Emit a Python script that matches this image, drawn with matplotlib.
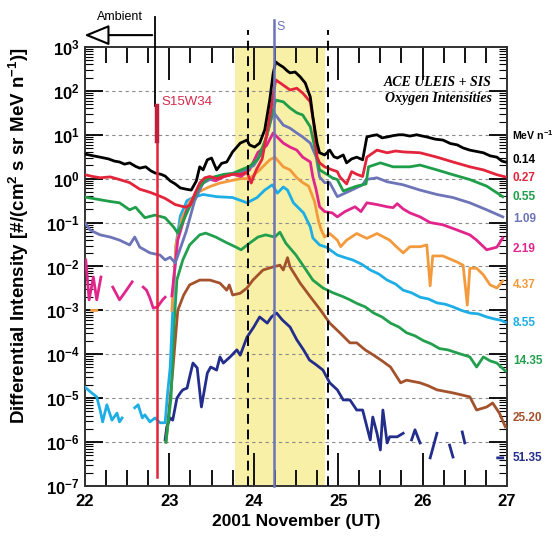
import numpy as np
import matplotlib
matplotlib.use("Agg")
import matplotlib.pyplot as plt
from matplotlib.ticker import MultipleLocator, LogLocator, NullFormatter, FuncFormatter

plt.rcParams["font.family"] = ["Liberation Sans", "DejaVu Sans"]
plt.rcParams["mathtext.fontset"] = "custom"
plt.rcParams["mathtext.rm"] = "Liberation Sans"
plt.rcParams["mathtext.bf"] = "Liberation Sans:bold"
plt.rcParams["mathtext.default"] = "bf"

NAN = float("nan")

# (day of November 2001, log10 intensity)
o_014 = [(22.00, 0.56), (22.10, 0.52), (22.18, 0.49), (22.28, 0.45), (22.35, 0.40), (22.41, 0.38),
         (22.47, 0.33), (22.53, 0.36), (22.60, 0.28), (22.65, 0.24), (22.72, 0.27), (22.78, 0.18),
         (22.83, 0.13), (22.90, 0.10), (22.95, 0.06), (23.01, -0.05), (23.07, -0.12), (23.13, -0.21),
         (23.20, -0.24), (23.26, -0.26), (23.32, -0.05), (23.36, 0.27), (23.40, 0.20), (23.45, 0.43),
         (23.50, 0.47), (23.56, 0.20), (23.62, 0.35), (23.68, 0.38), (23.75, 0.61), (23.84, 0.81),
         (23.92, 0.88), (23.95, 0.77), (24.01, 0.72), (24.07, 0.81), (24.13, 1.11), (24.19, 1.80),
         (24.23, 2.40), (24.26, 2.66), (24.30, 2.60), (24.35, 2.54), (24.40, 2.45), (24.43, 2.41),
         (24.49, 2.43), (24.55, 2.32), (24.61, 2.18), (24.67, 1.86), (24.70, 1.41), (24.75, 0.81),
         (24.78, 0.59), (24.84, 0.54), (24.90, 0.65), (24.95, 0.50), (24.99, 0.47), (25.06, 0.54),
         (25.10, 0.36), (25.16, 0.45), (25.22, 0.49), (25.29, 0.43), (25.34, 0.95), (25.40, 0.98),
         (25.46, 1.00), (25.52, 0.93), (25.58, 0.95), (25.65, 0.98), (25.72, 1.00), (25.77, 1.00),
         (25.85, 0.97), (25.93, 1.00), (26.00, 0.97), (26.05, 0.95), (26.15, 0.90), (26.24, 0.88),
         (26.33, 0.80), (26.41, 0.77), (26.48, 0.70), (26.56, 0.65), (26.64, 0.62), (26.72, 0.59),
         (26.80, 0.52), (26.88, 0.49), (26.94, 0.40), (26.98, 0.38)]

o_027 = [(22.00, 0.09), (22.09, 0.05), (22.18, 0.02), (22.30, 0.04), (22.41, -0.02), (22.53, -0.09),
         (22.65, -0.24), (22.77, -0.31), (22.89, -0.40), (22.95, -0.45), (23.07, -0.59), (23.19, -0.65),
         (23.25, -0.60), (23.30, -0.35), (23.36, -0.10), (23.42, 0.02), (23.48, 0.05), (23.56, 0.00),
         (23.65, 0.05), (23.75, 0.10), (23.85, 0.10), (23.92, 0.15), (23.97, -0.10), (24.03, 0.20),
         (24.10, 0.45), (24.18, 1.30), (24.26, 2.25), (24.35, 2.13), (24.43, 2.02), (24.51, 2.06),
         (24.58, 1.95), (24.67, 1.75), (24.71, 1.27), (24.75, 0.49), (24.78, 0.36), (24.84, 0.27),
         (24.93, 0.20), (24.99, 0.16), (25.02, 0.04), (25.10, -0.12), (25.16, 0.16), (25.22, 0.10),
         (25.29, 0.05), (25.34, 0.49), (25.46, 0.65), (25.58, 0.59), (25.68, 0.63), (25.77, 0.61),
         (25.97, 0.59), (26.17, 0.49), (26.36, 0.38), (26.56, 0.27), (26.72, 0.20), (26.88, 0.09),
         (26.98, 0.04)]

o_055 = [(22.00, -0.42), (22.09, -0.45), (22.18, -0.48), (22.30, -0.52), (22.41, -0.55), (22.53, -0.71),
         (22.60, -0.65), (22.71, -0.89), (22.83, -0.83), (22.95, -0.89), (23.05, -1.10), (23.10, -1.24),
         (23.25, -0.60), (23.35, -0.20), (23.45, 0.00), (23.55, 0.05), (23.65, 0.10), (23.75, 0.12),
         (23.85, 0.20), (23.95, 0.28), (24.05, 0.45), (24.15, 0.95), (24.26, 1.79), (24.35, 1.75),
         (24.43, 1.61), (24.51, 1.50), (24.58, 1.45), (24.67, 1.18), (24.73, 0.65), (24.78, 0.20),
         (24.84, 0.13), (24.93, 0.02), (24.99, -0.02), (25.06, -0.28), (25.22, -0.17), (25.33, -0.12),
         (25.36, 0.27), (25.50, 0.36), (25.65, 0.27), (25.85, 0.27), (25.97, 0.31), (26.17, 0.20),
         (26.36, 0.09), (26.56, -0.02), (26.76, -0.17), (26.95, -0.41)]

o_109 = [(22.00, -1.00), (22.06, -1.17), (22.18, -1.28), (22.30, -1.33), (22.41, -1.40), (22.53, -1.51),
         (22.59, -1.33), (22.65, -1.56), (22.77, -1.69), (22.89, -1.74), (22.95, -1.85), (23.01, -1.79),
         (23.07, -1.92), (23.20, -1.20), (23.30, -0.50), (23.40, -0.10), (23.50, 0.00), (23.60, 0.05),
         (23.70, 0.10), (23.80, 0.10), (23.90, 0.20), (24.00, 0.30), (24.10, 0.60), (24.23, 1.52),
         (24.35, 1.22), (24.43, 1.15), (24.51, 1.04), (24.58, 0.95), (24.67, 0.81), (24.74, 0.49),
         (24.78, 0.04), (24.84, -0.09), (24.90, -0.09), (24.99, -0.41), (25.16, -0.26), (25.29, -0.14),
         (25.33, -0.02), (25.46, 0.02), (25.58, -0.07), (25.77, -0.14), (25.97, -0.26), (26.17, -0.36),
         (26.36, -0.43), (26.56, -0.55), (26.76, -0.71), (26.95, -0.87)]

o_219 = [(22.01, -1.85), (22.05, -2.76), (22.10, -2.24), (22.14, -2.76), (22.19, -2.24), (22.25, NAN),
         (22.33, -2.47), (22.41, -2.76), (22.47, -2.60), (22.56, -2.35), (22.62, NAN),
         (22.69, -2.47), (22.73, -2.54), (22.77, -2.72), (22.81, -2.95), (22.86, -2.92), (22.92, -2.76),
         (22.95, -2.70), (22.99, NAN),
         (23.03, -2.67), (23.10, -1.40), (23.20, -0.75), (23.35, -0.20), (23.45, 0.00), (23.55, -0.05),
         (23.65, 0.05), (23.75, 0.10), (23.85, 0.05), (23.95, 0.20), (24.05, 0.60), (24.15, 0.75),
         (24.23, 1.04), (24.35, 0.81), (24.43, 0.72), (24.51, 0.65), (24.58, 0.49), (24.67, 0.38),
         (24.70, 0.04), (24.74, -0.26), (24.78, -0.64), (24.84, -0.75), (24.93, -0.78), (24.99, -0.87),
         (25.08, -0.75), (25.20, -0.64), (25.27, -0.75), (25.34, -0.55), (25.46, -0.59), (25.58, -0.64),
         (25.65, -0.66), (25.70, -0.57), (25.77, -0.69), (25.85, -0.78), (25.97, -0.87), (26.09, -1.00),
         (26.24, -1.05), (26.41, -1.17), (26.56, -1.28), (26.64, -1.40), (26.76, -1.62), (26.88, -1.56),
         (26.95, -1.35)]

o_437 = [(22.08, -3.00), (22.14, -3.00), (22.20, NAN),
         (23.03, -3.00), (23.08, -1.50), (23.15, -0.90), (23.25, -0.50), (23.35, -0.30), (23.48, -0.18),
         (23.60, -0.10), (23.72, -0.05), (23.84, 0.00), (23.95, 0.00), (24.07, 0.20), (24.19, 0.43),
         (24.25, 0.49), (24.35, 0.27), (24.43, 0.20), (24.51, 0.02), (24.58, -0.09), (24.65, -0.17),
         (24.72, -0.52), (24.77, -0.99), (24.80, -1.17), (24.84, -1.33), (24.90, -1.25), (24.99, -1.40),
         (25.03, -1.55), (25.10, -1.40), (25.22, -1.25), (25.34, -1.36), (25.46, -1.25), (25.61, -1.40),
         (25.69, -1.55), (25.77, -1.69), (25.85, -1.55), (25.97, -1.55), (26.05, -1.51), (26.09, -2.44),
         (26.12, -1.76), (26.24, -1.76), (26.41, -1.90), (26.48, -1.97), (26.53, -2.88), (26.56, -2.04),
         (26.64, -2.04), (26.72, -2.19), (26.80, -2.42), (26.88, -2.49), (26.95, -2.33)]

o_855 = [(22.00, -4.75), (22.08, -4.88), (22.14, -4.97), (22.18, -5.27), (22.21, -5.54), (22.26, -5.15),
         (22.32, -5.50), (22.38, -5.34), (22.41, -5.54), (22.44, -5.45), (22.52, NAN),
         (22.59, -5.22), (22.63, -5.15), (22.68, -5.45), (22.71, -5.38), (22.77, -5.54), (22.83, -5.45),
         (22.89, -5.56), (22.95, -5.56), (22.98, -4.88), (23.01, -4.30), (23.04, -3.00), (23.08, -1.50),
         (23.13, -0.85), (23.21, -0.50), (23.28, -0.43), (23.40, -0.36), (23.56, -0.41), (23.75, -0.43),
         (23.92, -0.55), (24.04, -0.43), (24.13, -0.26), (24.22, -0.14), (24.28, -0.33), (24.35, -0.19),
         (24.40, -0.26), (24.47, -0.55), (24.59, -0.78), (24.67, -1.10), (24.70, -1.35), (24.78, -1.51),
         (24.86, -1.56), (24.99, -1.74), (25.10, -1.81), (25.17, -1.85), (25.28, -1.95), (25.38, -2.08),
         (25.48, -2.17), (25.58, -2.31), (25.68, -2.40), (25.77, -2.54), (25.87, -2.60), (25.97, -2.70),
         (26.07, -2.74), (26.17, -2.83), (26.27, -2.86), (26.36, -2.92), (26.46, -3.00), (26.56, -3.06),
         (26.66, -3.08), (26.76, -3.15), (26.86, -3.20), (26.92, -3.22), (26.98, -3.27)]

o_1435 = [(22.96, -6.00), (23.02, -5.00), (23.05, -3.50), (23.09, -2.30), (23.16, -1.85), (23.24, -1.51),
          (23.36, -1.28), (23.43, -1.24), (23.55, -1.33), (23.67, -1.45), (23.79, -1.56), (23.85, -1.62),
          (23.95, -1.47), (24.05, -1.33), (24.14, -1.28), (24.25, -1.33), (24.31, -1.22), (24.38, -1.47),
          (24.50, -1.74), (24.62, -2.08), (24.70, -2.31), (24.82, -2.49), (24.94, -2.60), (25.06, -2.69),
          (25.14, -2.76), (25.22, -2.84), (25.32, -2.92), (25.42, -3.06), (25.52, -3.15), (25.62, -3.29),
          (25.72, -3.38), (25.81, -3.51), (25.91, -3.58), (26.01, -3.69), (26.10, -3.76), (26.20, -3.87),
          (26.30, -3.90), (26.41, -3.97), (26.56, -4.06), (26.64, -4.29), (26.72, -4.06), (26.80, -4.15),
          (26.88, -4.20), (26.98, -4.38)]

o_2520 = [(22.96, -6.00), (23.03, -4.60), (23.10, -3.00), (23.17, -2.65), (23.24, -2.42), (23.36, -2.31),
          (23.48, -2.31), (23.60, -2.38), (23.68, -2.54), (23.71, -2.42), (23.75, -2.65), (23.84, -2.61),
          (23.92, -2.49), (23.99, -2.31), (24.11, -2.08), (24.23, -2.01), (24.31, -1.97), (24.35, -2.08),
          (24.40, -1.80), (24.43, -2.01), (24.55, -2.38), (24.67, -2.69), (24.79, -2.99), (24.90, -3.29),
          (25.02, -3.51), (25.14, -3.74), (25.22, -3.74), (25.32, -3.90), (25.42, -4.02), (25.52, -4.15),
          (25.62, -4.29), (25.74, -4.65), (25.81, -4.59), (25.97, -4.65), (26.07, -4.72), (26.17, -4.81),
          (26.36, -4.88), (26.56, -4.97), (26.64, -5.27), (26.76, -5.20), (26.83, -5.11), (26.91, -5.34),
          (26.98, -5.65)]

o_5135 = [(22.95, -5.95), (22.97, -5.65), (23.01, -5.45), (23.04, -5.50), (23.09, -5.00), (23.13, -4.88),
          (23.16, -4.81), (23.21, -4.77), (23.24, -4.52), (23.28, -4.20), (23.33, -4.31), (23.38, -5.20),
          (23.45, -4.43), (23.49, -4.29), (23.56, -4.36), (23.60, -4.06), (23.64, -4.20), (23.72, -4.06),
          (23.80, -3.90), (23.84, -4.02), (23.92, -3.61), (24.00, -3.38), (24.07, -3.15), (24.16, -3.29),
          (24.21, -3.15), (24.27, -3.06), (24.34, -3.22), (24.43, -3.38), (24.51, -3.67), (24.59, -3.90),
          (24.66, -4.13), (24.74, -4.24), (24.82, -4.36), (24.90, -4.65), (24.99, -4.81), (25.06, -5.04),
          (25.14, -5.04), (25.22, -5.27), (25.29, -5.27), (25.38, -5.95), (25.41, -5.43), (25.46, -5.80),
          (25.50, -6.18), (25.53, -5.27), (25.58, -6.02), (25.61, -5.88), (25.70, -5.88), (25.77, -5.80),
          (25.82, NAN), (25.87, -5.95), (25.91, -5.72), (25.97, -6.02), (26.03, NAN),
          (26.09, -6.36), (26.17, -5.80), (26.25, NAN), (26.32, -6.07), (26.36, -6.34), (26.42, NAN),
          (26.47, -5.77), (26.50, -6.02), (26.60, NAN), (26.89, -6.36), (26.95, -6.36)]

energias = ["0.14", "0.27", "0.55", "1.09", "2.19", "4.37", "8.55", "14.35", "25.20", "51.35"]
canais = [o_014, o_027, o_055, o_109, o_219, o_437, o_855, o_1435, o_2520, o_5135]
cores = ["#000000", "#e3243b", "#1f9e4a", "#6d74b8", "#e0258c", "#f39a3c", "#1eaee6",
         "#22a04e", "#a4522c", "#232d8c"]
label_y = [0.743, 0.702, 0.658, 0.608, 0.540, 0.458, 0.371, 0.285, 0.155, 0.064]

fig = plt.figure(figsize=(5.55, 5.38), dpi=100)
ax = fig.add_axes([0.153, 0.0967, 0.7605, 0.816])

ax.axvspan(23.78, 24.84, color="#f8f0a6", zorder=0, lw=0)

for k in range(len(canais) - 1, -1, -1):
    t, lg = zip(*canais[k])
    ax.plot(t, 10 ** np.array(lg), color=cores[k], lw=2.0, zorder=3)

ax.set_yscale("log")
ax.set_xlim(22, 27)
ax.set_ylim(1e-7, 1e3)

for e in range(-6, 3):
    ax.axhline(10.0 ** e, color="#8c8c8c", lw=0.8, ls=(0, (3, 3)), zorder=1)

# event markers
ax.axvline(23.93, ymin=0, ymax=1.039, color="black", lw=1.4, ls=(0, (5, 3)), clip_on=False, zorder=5)
ax.axvline(24.88, ymin=0, ymax=1.039, color="black", lw=1.4, ls=(0, (5, 3)), clip_on=False, zorder=5)
ax.axvline(24.24, ymin=0, ymax=1.061, color="#6d74b8", lw=1.8, clip_on=False, zorder=5)
ax.text(24.27, 1.045, "S", transform=ax.get_xaxis_transform(), color="#6d74b8",
        fontsize=9, ha="left", va="center")
ax.axvline(22.83, ymin=0.866, ymax=1.068, color="black", lw=1.3, clip_on=False, zorder=5)
ax.axvline(22.85, ymin=0.02, ymax=0.866, color="#e3243b", lw=1.8, zorder=5)
ax.axvline(22.85, ymin=0.785, ymax=0.866, color="#c0203a", lw=3.2, zorder=5)
ax.text(0.182, 0.875, "S15W34", transform=ax.transAxes, color="#d42a4a", fontsize=9.5,
        ha="left", va="center")

ax.annotate("", xy=(-0.008, 1.027), xytext=(0.166, 1.027), xycoords="axes fraction",
            arrowprops=dict(arrowstyle="-|>,head_length=1.1,head_width=0.45", fc="white",
                            ec="black", lw=1.5, mutation_scale=14), annotation_clip=False)
ax.text(0.083, 1.068, "Ambient", transform=ax.transAxes, fontsize=9, ha="center", va="center")

ax.text(0.964, 0.920, "ACE ULEIS + SIS", transform=ax.transAxes, ha="right", va="center",
        fontsize=10, fontweight="bold", style="italic", family="Liberation Serif")
ax.text(0.964, 0.8815, "Oxygen Intensities", transform=ax.transAxes, ha="right", va="center",
        fontsize=10, fontweight="bold", style="italic", family="Liberation Serif")

ax.text(1.012, 0.80, r"MeV n$^{-1}$", transform=ax.transAxes, ha="left", va="center",
        fontsize=7.6, fontweight="bold")
for k in range(len(energias)):
    ax.text(1.014, label_y[k], energias[k], transform=ax.transAxes, ha="left", va="center",
            fontsize=8.5, fontweight="bold", color=cores[k])

ax.set_xticks(range(22, 28))
ax.xaxis.set_minor_locator(MultipleLocator(0.25))
ax.yaxis.set_major_locator(LogLocator(base=10, numticks=20))
ax.yaxis.set_minor_locator(LogLocator(base=10, subs=np.arange(2, 10), numticks=20))
ax.yaxis.set_minor_formatter(NullFormatter())
ax.yaxis.set_major_formatter(FuncFormatter(lambda v, p: r"$10^{%d}$" % round(np.log10(v))))

ax.tick_params(axis="x", which="major", direction="in", length=24, width=1.3, top=True,
               labelsize=12, pad=6)
ax.tick_params(axis="x", which="minor", direction="in", length=11.5, width=1.3, top=True)
ax.tick_params(axis="y", which="major", direction="in", length=13, width=1.3, right=True,
               labelsize=12, pad=4)
ax.tick_params(axis="y", which="minor", direction="in", length=6, width=0.8, right=True)
for lab in ax.get_xticklabels():
    lab.set_fontweight("bold")

for s in ax.spines.values():
    s.set_linewidth(1.4)
    s.set_color("#333333")

ax.set_xlabel("2001 November (UT)", fontsize=12.5, fontweight="bold")
ax.xaxis.set_label_coords(0.5, -0.064)
ax.set_ylabel(r"Differential Intensity [#/(cm$^2$ s sr MeV n$^{-1}$)]", fontsize=13.5,
              fontweight="bold")
ax.yaxis.set_label_coords(-0.128, 0.57)

fig.savefig("out.png", dpi=100)
